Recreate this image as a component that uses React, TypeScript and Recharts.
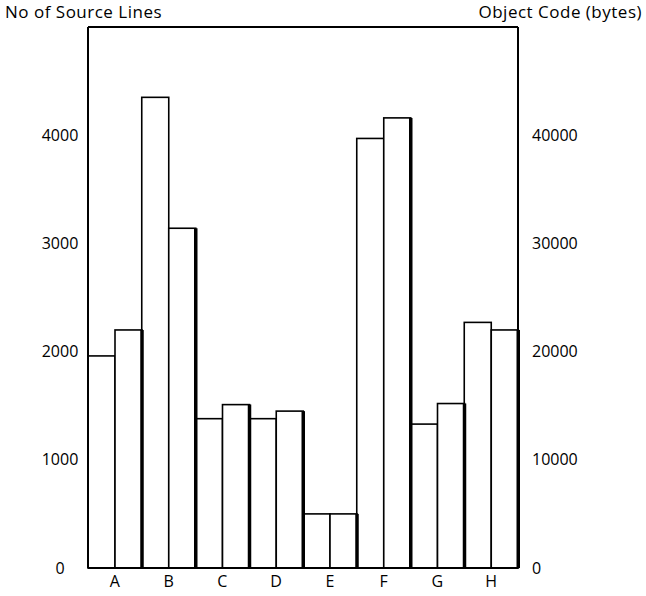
import { BarChart, Bar, XAxis, YAxis, ReferenceLine } from 'recharts';

const programs = ['A', 'B', 'C', 'D', 'E', 'F', 'G', 'H'];
const sourceLines = [1960, 4350, 1380, 1380, 500, 3970, 1330, 2270];
const objectCode = [22000, 31400, 15100, 14500, 5000, 41600, 15200, 22000];
const leftTicks = [0, 1000, 2000, 3000, 4000];
const rightTicks = [0, 10000, 20000, 30000, 40000];

const data = programs.map((p, i) => ({ name: p, lines: sourceLines[i], bytes: objectCode[i] }));

const FONT = '"Open Sans", "DejaVu Sans", sans-serif';

// white box with a black outline; the second bar of each pair gets a heavy right edge
function OutlineBar(props: any) {
  const { x, y, width, height, heavy } = props;
  if (!height) return null;
  return (
    <g>
      <rect x={x} y={y} width={width} height={height} fill="#fff" stroke="#000" strokeWidth={1.6} />
      {heavy && <line x1={x + width} y1={y} x2={x + width} y2={y + height} stroke="#000" strokeWidth={3.5} />}
    </g>
  );
}

function LeftTick(props: any) {
  const { x, y, payload } = props;
  return (
    <text x={x - 20} y={y} dy="0.35em" textAnchor="middle" fontSize={16} fontFamily={FONT} fill="#000">
      {payload.value}
    </text>
  );
}

function RightTick(props: any) {
  const { x, y, payload } = props;
  return (
    <text x={x + 6} y={y} dy="0.35em" textAnchor="start" fontSize={16} fontFamily={FONT} fill="#000">
      {payload.value}
    </text>
  );
}

const titleStyle = {
  position: 'absolute' as const,
  top: 0,
  fontFamily: FONT,
  fontSize: 17,
  letterSpacing: 0.5,
  color: '#000',
  whiteSpace: 'nowrap' as const,
};

export default function App() {
  return (
    <div style={{ position: 'absolute', left: 0, top: 0, width: 646, height: 596, background: '#fff' }}>
      <div style={{ ...titleStyle, left: 5 }}>No of Source Lines</div>
      <div style={{ ...titleStyle, right: 4 }}>Object Code (bytes)</div>
      <BarChart
        width={646}
        height={596}
        data={data}
        margin={{ top: 27, right: 0, bottom: 0, left: 0 }}
        barCategoryGap={0}
        barGap={0}
      >
        <XAxis
          dataKey="name"
          height={28}
          tickLine={false}
          axisLine={{ stroke: '#000', strokeWidth: 2 }}
          tick={{ fill: '#000', fontSize: 16, fontFamily: FONT }}
        />
        <YAxis
          yAxisId="left"
          width={88}
          domain={[0, 5000]}
          ticks={leftTicks}
          tickLine={false}
          axisLine={{ stroke: '#000', strokeWidth: 2 }}
          tick={<LeftTick />}
        />
        <YAxis
          yAxisId="right"
          orientation="right"
          width={128}
          domain={[0, 50000]}
          ticks={rightTicks}
          tickLine={false}
          axisLine={{ stroke: '#000', strokeWidth: 2 }}
          tick={<RightTick />}
        />
        <ReferenceLine yAxisId="left" y={5000} stroke="#000" strokeWidth={2} />
        <Bar yAxisId="left" dataKey="lines" isAnimationActive={false} shape={<OutlineBar />} />
        <Bar yAxisId="right" dataKey="bytes" isAnimationActive={false} shape={<OutlineBar heavy />} />
      </BarChart>
    </div>
  );
}
